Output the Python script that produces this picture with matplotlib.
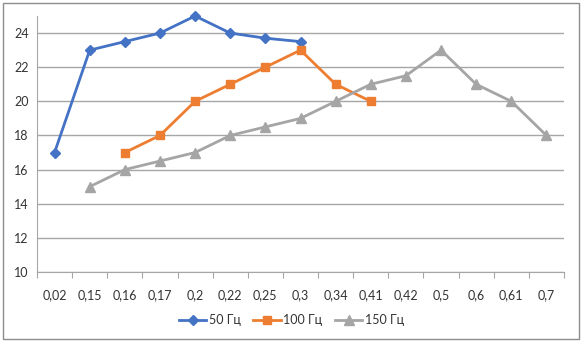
import numpy as np
import matplotlib
matplotlib.use("Agg")
import matplotlib.pyplot as plt
from matplotlib.patches import Rectangle

# categories on the x axis (kept as text, decimal comma)
categories = ["0,02", "0,15", "0,16", "0,17", "0,2", "0,22", "0,25", "0,3",
              "0,34", "0,41", "0,42", "0,5", "0,6", "0,61", "0,7"]

# values per series (None = no point)
hz50 = [17, 23, 23.5, 24, 25, 24, 23.7, 23.5,
        None, None, None, None, None, None, None]
hz100 = [None, None, 17, 18, 20, 21, 22, 23,
         21, 20, None, None, None, None, None]
hz150 = [None, 15, 16, 16.5, 17, 18, 18.5, 19,
         20, 21, 21.5, 23, 21, 20, 18]

labels = ["50 Гц", "100 Гц", "150 Гц"]
colors = ["#4472C4", "#ED7D31", "#A5A5A5"]
markers = ["D", "s", "^"]
msizes = [5, 6, 7]

plt.rcParams['font.family'] = ['Lato', 'DejaVu Sans']

fig = plt.figure(figsize=(5.83, 3.42), dpi=100)
ax = fig.add_axes([37 / 583, 1 - 272 / 342, (564 - 37) / 583, (272 - 16) / 342])

x = np.arange(len(categories))
for vals, lab, c, m, ms in zip([hz50, hz100, hz150], labels, colors, markers, msizes):
    y = np.array([np.nan if v is None else v for v in vals], dtype=float)
    ax.plot(x, y, color=c, marker=m, markersize=ms, linewidth=2, label=lab,
            clip_on=False, zorder=3)

ax.set_xlim(-0.5, len(categories) - 0.5)
ax.set_ylim(10, 25)
ax.set_yticks(np.arange(10, 25, 2))
ax.yaxis.grid(True, color="#A6A6A6", linewidth=1)
ax.set_axisbelow(True)

# category ticks sit on the boundaries, labels centered
ax.set_xticks(np.arange(-0.5, len(categories), 1))
ax.set_xticklabels([])
ax.set_xticks(x, minor=True)
ax.set_xticklabels(categories, minor=True)
ax.tick_params(axis="x", which="major", length=4, color="#A6A6A6", direction="out")
ax.tick_params(axis="x", which="minor", length=0, pad=12, labelsize=9, labelcolor="#333333")
ax.tick_params(axis="y", length=0, labelsize=9, labelcolor="#333333", pad=6)

for s in ["top", "right"]:
    ax.spines[s].set_visible(False)
ax.spines["left"].set_color("#A6A6A6")
ax.spines["bottom"].set_color("#A6A6A6")

leg = fig.legend(loc="center", bbox_to_anchor=(0.5, 1 - 320 / 342), ncol=3,
                 frameon=False, fontsize=9, handlelength=2.2, columnspacing=1.0,
                 handletextpad=0.2)
for t in leg.get_texts():
    t.set_color("#333333")

# outer chart border
fig.patches.append(Rectangle((3 / 583, 3 / 342), 576 / 583, 336 / 342,
                             transform=fig.transFigure, fill=False,
                             edgecolor="#8C8C8C", linewidth=1))

fig.savefig("out.png", dpi=100)
